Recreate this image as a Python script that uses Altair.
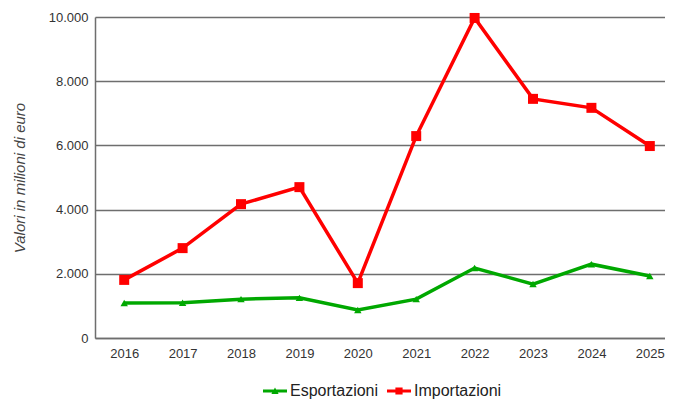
import altair as alt
import pandas as pd

years = [2016, 2017, 2018, 2019, 2020, 2021, 2022, 2023, 2024, 2025]
esportazioni = [1090, 1100, 1210, 1250, 870, 1210, 2180, 1680, 2300, 1930]
importazioni = [1810, 2800, 4170, 4700, 1710, 6290, 9970, 7450, 7170, 5980]
series = ["Esportazioni", "Importazioni"]
colors = ["#00a800", "#ff0000"]

rows = []
for y, e, i in zip(years, esportazioni, importazioni):
    rows.append({"anno": y, "serie": series[0], "valore": e})
    rows.append({"anno": y, "serie": series[1], "valore": i})
df = pd.DataFrame(rows)

FONT = "Liberation Sans"

x = alt.X("anno:Q",
          scale=alt.Scale(domain=[2015.5, 2025.26], nice=False, zero=False),
          axis=alt.Axis(values=years, format="d", title=None, grid=False, ticks=False,
                        labelPadding=9, labelFontSize=13, labelColor="#333333",
                        labelFont=FONT, domainColor="#6e6e6e", domainWidth=1.5))
y = alt.Y("valore:Q",
          scale=alt.Scale(domain=[0, 10000], nice=False),
          axis=alt.Axis(values=[0, 2000, 4000, 6000, 8000, 10000],
                        labelExpr="replace(format(datum.value, ','), ',', '.')",
                        title="Valori in milioni di euro", titleFont=FONT,
                        titleFontStyle="italic", titleFontWeight="normal",
                        titleFontSize=15, titleColor="#444444", titlePadding=21,
                        labelFontSize=13, labelColor="#333333", labelFont=FONT,
                        labelPadding=7, ticks=False, grid=True,
                        gridColor="#6e6e6e", gridWidth=1.5,
                        domainColor="#6e6e6e", domainWidth=1.5))

legend_shapes = [
    "M-1,-0.125H1V0.125H-1Z M-0.3,0.25L0,-0.3L0.3,0.25Z",
    "M-1,-0.125H1V0.125H-1Z M-0.3,-0.3H0.3V0.3H-0.3Z",
]

legend = alt.Legend(
    title=None, orient="none", direction="horizontal", legendX=168, legendY=362,
    labelFont=FONT, labelFontSize=16, labelColor="#222222", labelOffset=3,
    columnPadding=8, symbolSize=576, symbolStrokeWidth=0, padding=0,
    symbolOpacity=1)

base = alt.Chart(df)

layers = []
for s, c, shp, sz in zip(series, colors, ["triangle-up", "square"], [55, 100]):
    sub = base.transform_filter(alt.datum.serie == s)
    layers.append(sub.mark_line(strokeWidth=3.5, color=c).encode(x=x, y=y))
    layers.append(sub.mark_point(shape=shp, filled=True, size=sz, color=c,
                                 opacity=1).encode(x=x, y=y))

legend_layer = base.mark_point(filled=True, size=0, opacity=1).encode(
    x=x, y=y,
    color=alt.Color("serie:N", scale=alt.Scale(domain=series, range=colors), legend=legend),
    shape=alt.Shape("serie:N", scale=alt.Scale(domain=series, range=legend_shapes), legend=legend),
)

chart = alt.layer(*layers, legend_layer).properties(
    width=570, height=321,
    autosize=alt.AutoSizeParams(type="none"),
    padding={"left": 87, "top": 9, "right": 0, "bottom": 63},
    background="white",
).configure_view(stroke=None)

chart.save("out.html", embed_options={"renderer": "svg", "actions": False})
